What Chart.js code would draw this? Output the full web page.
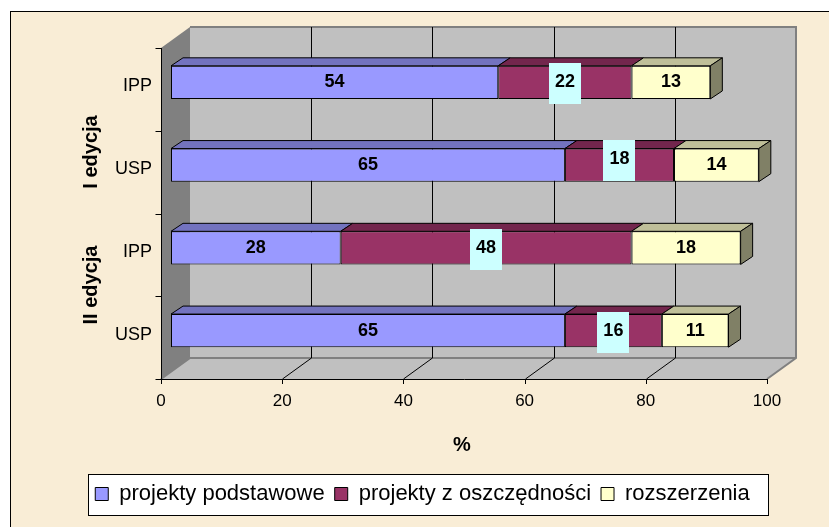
<!DOCTYPE html>
<html>
<head>
<meta charset="utf-8">
<script src="https://cdn.jsdelivr.net/npm/chart.js@4/dist/chart.umd.min.js"></script>
<style>
  html, body { margin: 0; padding: 0; background: #ffffff; }
  canvas { display: block; }
</style>
</head>
<body>
<canvas id="myChart" width="829" height="527"></canvas>
<script>
const categories = ['IPP', 'USP', 'IPP', 'USP'];
const groups = ['I edycja', 'II edycja'];
const seriesNames = ['projekty podstawowe', 'projekty z oszczędności', 'rozszerzenia'];
const podstawowe = [54, 65, 28, 65];
const oszczednosci = [22, 18, 48, 16];
const rozszerzenia = [13, 14, 18, 11];
const xTicks = [0, 20, 40, 60, 80, 100];
const axisTitle = '%';

const frontColors = ['#9999FF', '#993366', '#FFFFCC'];
const topColors = ['#7373BF', '#73264D', '#BFBF99'];
const sideColors = ['#4D4D80', '#4D1A33', '#808066'];
const FONT = "'Liberation Sans', Arial, sans-serif";

// offsets of the 3D box, relative to the plane the bars stand in
const FRONT = { dx: -10, dy: 7 };
const BACK = { dx: 19, dy: -14 };
const BAR_DEPTH = { dx: 12, dy: -8 };

var seriesValues = [podstawowe, oszczednosci, rozszerzenia];

var dataSource = {
    labels: categories,
    datasets: seriesValues.map(function (vals, i) {
        return {
            label: seriesNames[i],
            data: vals,
            backgroundColor: frontColors[i],
            borderColor: '#000000',
            borderWidth: 1,
            borderSkipped: false,
            barPercentage: 0.4,
            categoryPercentage: 1,
            stack: 's'
        };
    })
};

var boxPlugin = {
    id: 'box3d',
    beforeDraw: function (chart) {
        var ctx = chart.ctx;
        ctx.save();
        ctx.fillStyle = '#ffffff';
        ctx.fillRect(0, 0, chart.width, chart.height);
        ctx.fillStyle = '#F9EDD6';
        ctx.fillRect(11, 12, chart.width, chart.height);
        ctx.strokeStyle = '#000000';
        ctx.lineWidth = 1;
        ctx.strokeRect(10.5, 11.5, chart.width + 10, chart.height + 10);

        // legend frame
        var lg = chart.legend;
        if (lg && lg.legendHitBoxes.length) {
            var hb = lg.legendHitBoxes;
            var first = hb[0], last = hb[hb.length - 1];
            var cy = first.top + first.height / 2;
            var lx = Math.round(first.left - 7) + 0.5;
            var rx = Math.round(last.left + last.width + 18) + 0.5;
            ctx.fillStyle = '#ffffff';
            ctx.fillRect(lx, Math.round(cy - 20) + 0.5, rx - lx, 41);
            ctx.strokeRect(lx, Math.round(cy - 20) + 0.5, rx - lx, 41);
        }
        ctx.restore();
    },
    beforeDatasetsDraw: function (chart) {
        var ctx = chart.ctx;
        var xs = chart.scales.x;
        var ca = chart.chartArea;
        var fL = ca.left + FRONT.dx, fR = ca.right + FRONT.dx;
        var fT = ca.top + FRONT.dy, fB = ca.bottom + FRONT.dy;
        var ox = BACK.dx - FRONT.dx, oy = BACK.dy - FRONT.dy;
        ctx.save();
        ctx.lineWidth = 1;

        // back wall
        ctx.fillStyle = '#C0C0C0';
        ctx.fillRect(fL + ox, fT + oy, fR - fL, fB - fT);
        // side wall
        ctx.fillStyle = '#808080';
        ctx.beginPath();
        ctx.moveTo(fL, fT); ctx.lineTo(fL + ox, fT + oy);
        ctx.lineTo(fL + ox, fB + oy); ctx.lineTo(fL, fB);
        ctx.closePath(); ctx.fill();
        // floor
        ctx.fillStyle = '#C0C0C0';
        ctx.beginPath();
        ctx.moveTo(fL, fB); ctx.lineTo(fL + ox, fB + oy);
        ctx.lineTo(fR + ox, fB + oy); ctx.lineTo(fR, fB);
        ctx.closePath(); ctx.fill();

        // wall edges
        ctx.strokeStyle = '#808080';
        ctx.lineWidth = 2;
        ctx.beginPath();
        ctx.moveTo(fL + ox, fT + oy); ctx.lineTo(fR + ox, fT + oy);
        ctx.lineTo(fR + ox, fB + oy); ctx.lineTo(fR, fB);
        ctx.moveTo(fL + ox, fB + oy); ctx.lineTo(fR + ox, fB + oy);
        ctx.moveTo(fL, fB); ctx.lineTo(fL + ox, fB + oy);
        ctx.stroke();

        // grid on back wall and floor
        ctx.strokeStyle = '#000000';
        ctx.lineWidth = 1;
        ctx.beginPath();
        xTicks.forEach(function (v) {
            var px = Math.round(xs.getPixelForValue(v) + FRONT.dx) + 0.5;
            if (v > 0 && v < 100) {
                ctx.moveTo(px + ox, fT + oy);
                ctx.lineTo(px + ox, fB + oy);
            }
            if (v > 0 && v < 100) {
                ctx.moveTo(px, fB);
                ctx.lineTo(px + ox, fB + oy);
            }
            ctx.moveTo(px, fB);
            ctx.lineTo(px, fB + 5);
        });
        ctx.stroke();

        // front axes
        var ax = Math.round(fL) + 0.5, ay = Math.round(fB) + 0.5;
        ctx.beginPath();
        ctx.moveTo(ax, fT); ctx.lineTo(ax, ay); ctx.lineTo(fR, ay);
        var ys = chart.scales.y;
        var band = (ca.bottom - ca.top) / categories.length;
        for (var k = 0; k <= categories.length; k++) {
            var ty = Math.round(ca.top + band * k + FRONT.dy) + 0.5;
            ctx.moveTo(ax - 6, ty); ctx.lineTo(ax, ty);
        }
        ctx.stroke();
        ctx.restore();
    },
    afterDatasetsDraw: function (chart) {
        var ctx = chart.ctx;
        var n = chart.data.datasets.length;
        ctx.save();
        ctx.lineWidth = 1;
        ctx.strokeStyle = '#000000';
        for (var i = 0; i < n; i++) {
            var meta = chart.getDatasetMeta(i);
            meta.data.forEach(function (el) {
                var x0 = Math.min(el.base, el.x), x1 = Math.max(el.base, el.x);
                var top = el.y - el.height / 2, bot = el.y + el.height / 2;
                ctx.fillStyle = topColors[i];
                ctx.beginPath();
                ctx.moveTo(x0, top); ctx.lineTo(x0 + BAR_DEPTH.dx, top + BAR_DEPTH.dy);
                ctx.lineTo(x1 + BAR_DEPTH.dx, top + BAR_DEPTH.dy); ctx.lineTo(x1, top);
                ctx.closePath(); ctx.fill(); ctx.stroke();
                if (i === n - 1) {
                    ctx.fillStyle = sideColors[i];
                    ctx.beginPath();
                    ctx.moveTo(x1, top); ctx.lineTo(x1 + BAR_DEPTH.dx, top + BAR_DEPTH.dy);
                    ctx.lineTo(x1 + BAR_DEPTH.dx, bot + BAR_DEPTH.dy); ctx.lineTo(x1, bot);
                    ctx.closePath(); ctx.fill(); ctx.stroke();
                }
            });
        }

        // value labels
        var labelShift = [0, -6, 0, 0];
        ctx.font = 'bold 18px ' + FONT;
        ctx.textAlign = 'center';
        ctx.textBaseline = 'middle';
        for (var j = 0; j < n; j++) {
            var m = chart.getDatasetMeta(j);
            m.data.forEach(function (el, idx) {
                var cx = (el.base + el.x) / 2, cy = el.y;
                if (j === 1) {
                    cy += labelShift[idx];
                    ctx.fillStyle = '#CCFFFF';
                    ctx.fillRect(Math.round(cx - 16), Math.round(cy - 19), 32, 41);
                }
                ctx.fillStyle = '#000000';
                ctx.fillText(String(chart.data.datasets[j].data[idx]), cx, cy);
            });
        }
        ctx.restore();
    },
    afterDraw: function (chart) {
        var ctx = chart.ctx;
        ctx.save();
        ctx.fillStyle = '#000000';
        ctx.font = 'bold 20px ' + FONT;
        ctx.textAlign = 'center';
        ctx.textBaseline = 'middle';
        ctx.fillText(axisTitle, 462, 445);

        var groupCenters = [152, 285];
        groups.forEach(function (g, i) {
            ctx.save();
            ctx.translate(91, groupCenters[i]);
            ctx.rotate(-Math.PI / 2);
            ctx.fillText(g, 0, 0);
            ctx.restore();
        });
        ctx.restore();
    }
};

var ctx = document.getElementById('myChart').getContext('2d');
var myChart = new Chart(ctx, {
    type: 'bar',
    data: dataSource,
    plugins: [boxPlugin],
    options: {
        indexAxis: 'y',
        responsive: false,
        animation: false,
        devicePixelRatio: 1,
        layout: { padding: { left: 16, right: 0, top: 41, bottom: 12 } },
        plugins: {
            tooltip: { enabled: false },
            legend: {
                position: 'bottom',
                labels: {
                    color: '#000000',
                    font: { family: FONT, size: 22 },
                    boxWidth: 13,
                    boxHeight: 13,
                    padding: 10
                }
            }
        },
        scales: {
            x: {
                stacked: true,
                min: 0,
                max: 100,
                grid: { display: false, drawTicks: false },
                border: { display: false },
                ticks: {
                    stepSize: 20,
                    padding: 19,
                    labelOffset: FRONT.dx,
                    color: '#000000',
                    font: { family: FONT, size: 17 }
                },
                afterFit: function (scale) { scale.height = 101; }
            },
            y: {
                stacked: true,
                grid: { display: false, drawTicks: false },
                border: { display: false },
                ticks: {
                    padding: 19,
                    labelOffset: 4,
                    color: '#000000',
                    font: { family: FONT, size: 18 }
                },
                afterFit: function (scale) { scale.width = 155; }
            },
            yRight: {
                position: 'right',
                grid: { display: false, drawTicks: false },
                border: { display: false },
                ticks: { display: false },
                afterFit: function (scale) { scale.width = 52; }
            }
        }
    }
});
</script>
</body>
</html>
